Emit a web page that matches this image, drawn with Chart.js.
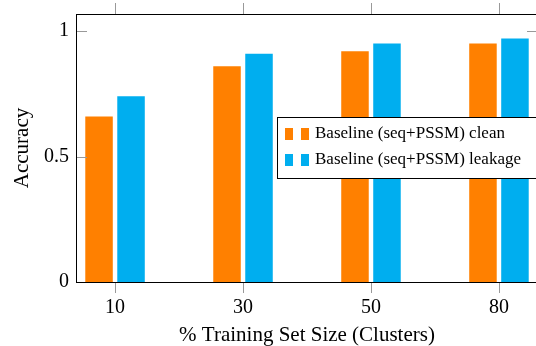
<!DOCTYPE html>
<html>
<head>
<meta charset="utf-8">
<script src="https://cdn.jsdelivr.net/npm/chart.js@4.4.0/dist/chart.umd.min.js"></script>
<style>
  html, body { margin: 0; padding: 0; overflow: hidden; background: #fff; }
  canvas { display: block; }
</style>
</head>
<body>
<canvas id="accChart" width="545" height="346"></canvas>
<script>
// values
const sizes = ['10', '30', '50', '80'];
const cleanAcc = [0.66, 0.86, 0.92, 0.95];
const leakAcc = [0.74, 0.91, 0.95, 0.97];
const yTicks = [0, 0.5, 1];
const seriesNames = ['Baseline (seq+PSSM) clean', 'Baseline (seq+PSSM) leakage'];
const seriesColors = ['#FF8000', '#00AEEF'];

const serif = 'Liberation Serif';

// tick marks, frame and the legend box (pgfplots look)
const frameAndLegend = {
    id: 'frameAndLegend',
    afterDraw(chart) {
        const ctx = chart.ctx;
        const a = chart.chartArea;
        const x = chart.scales.x;
        const y = chart.scales.y;
        ctx.save();
        ctx.strokeStyle = '#999';
        ctx.lineWidth = 1;
        ctx.beginPath();
        x.ticks.forEach(t => {
            const px = Math.round(x.getPixelForValue(t.value)) + 0.5;
            ctx.moveTo(px, a.top);
            ctx.lineTo(px, a.top - 11);
            ctx.moveTo(px, a.bottom);
            ctx.lineTo(px, a.bottom + 11);
        });
        y.ticks.forEach(t => {
            const py = Math.round(y.getPixelForValue(t.value)) + 0.5;
            ctx.moveTo(a.left, py);
            ctx.lineTo(a.left + 11, py);
            ctx.moveTo(a.right, py);
            ctx.lineTo(a.right - 11, py);
        });
        ctx.stroke();

        ctx.strokeStyle = '#000';
        ctx.strokeRect(a.left + 0.5, a.top + 0.5, a.right - a.left, a.bottom - a.top);

        // legend
        const lx = 277.5, ly = 117.5;
        ctx.fillStyle = '#fff';
        ctx.fillRect(lx, ly, 270, 61);
        ctx.strokeRect(lx, ly, 270, 61);
        ctx.font = '17px "' + serif + '"';
        ctx.textBaseline = 'middle';
        seriesNames.forEach((name, i) => {
            const cy = 134 + i * 26;
            ctx.fillStyle = seriesColors[i];
            ctx.fillRect(285, cy - 6, 8, 12);
            ctx.fillRect(301, cy - 6, 8, 12);
            ctx.fillStyle = '#000';
            ctx.fillText(name, 315, cy);
        });
        ctx.restore();
    }
};

new Chart(document.getElementById('accChart').getContext('2d'), {
    type: 'bar',
    data: {
        datasets: [{
            label: seriesNames[0],
            data: cleanAcc.map((v, i) => ({ x: i, y: v })),
            backgroundColor: seriesColors[0]
        }, {
            label: seriesNames[1],
            data: leakAcc.map((v, i) => ({ x: i, y: v })),
            backgroundColor: seriesColors[1]
        }]
    },
    options: {
        responsive: false,
        animation: false,
        categoryPercentage: 0.5,
        barPercentage: 0.86,
        layout: { padding: { top: 14, right: 7, left: 0, bottom: 0 } },
        plugins: {
            legend: { display: false },
            tooltip: { enabled: false }
        },
        scales: {
            x: {
                type: 'linear',
                offset: false,
                min: -0.305,
                max: 3.305,
                grid: { display: false, drawTicks: false, offset: false },
                border: { display: false },
                afterBuildTicks: scale => { scale.ticks = sizes.map((_, i) => ({ value: i })); },
                afterFit: scale => {
                    scale.height = 64;
                    scale.paddingLeft = 0;
                    scale.paddingRight = 0;
                },
                ticks: {
                    padding: 14,
                    maxRotation: 0,
                    color: '#000',
                    font: { family: serif, size: 20 },
                    callback: v => sizes[v]
                },
                title: {
                    display: true,
                    text: '% Training Set Size (Clusters)',
                    color: '#000',
                    padding: { top: 0, bottom: -2 },
                    font: { family: serif, size: 21 }
                }
            },
            y: {
                min: 0,
                max: 1.068,
                grid: { display: false, drawTicks: false },
                border: { display: false },
                afterBuildTicks: scale => { scale.ticks = yTicks.map(v => ({ value: v })); },
                afterFit: scale => {
                    scale.width = 76;
                    scale.paddingTop = 0;
                    scale.paddingBottom = 0;
                },
                ticks: {
                    padding: 7,
                    color: '#000',
                    font: { family: serif, size: 20 },
                    callback: v => String(v)
                },
                title: {
                    display: true,
                    text: 'Accuracy',
                    color: '#000',
                    padding: { top: 10, bottom: 0 },
                    font: { family: serif, size: 21 }
                }
            }
        }
    },
    plugins: [frameAndLegend]
});
</script>
</body>
</html>
